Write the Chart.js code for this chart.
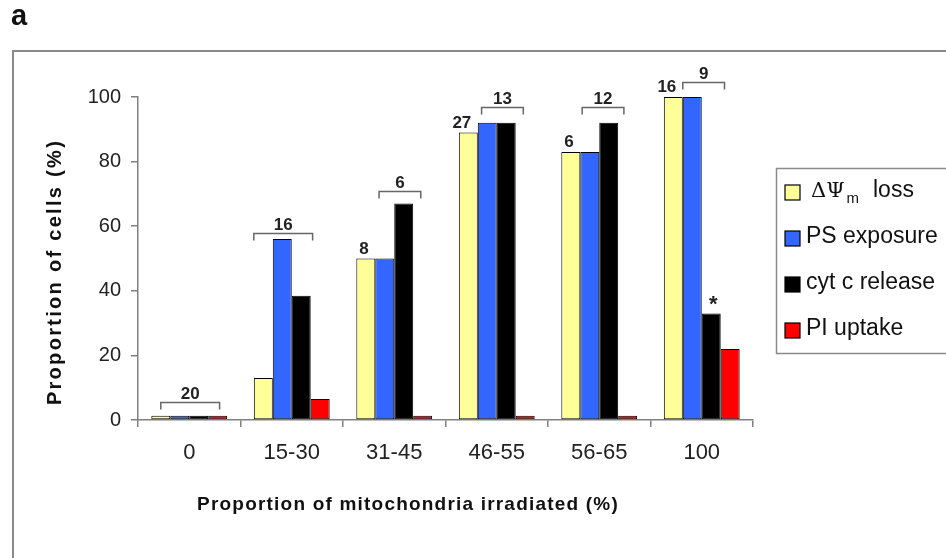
<!DOCTYPE html>
<html>
<head>
<meta charset="utf-8">
<script src="https://cdn.jsdelivr.net/npm/chart.js@4.4.1/dist/chart.umd.min.js"></script>
<style>
  html, body { margin: 0; padding: 0; background: #fff; }
  canvas { display: block; }
</style>
</head>
<body>
<canvas id="chart" width="946" height="558"></canvas>
<script>
const categories = ["0", "15-30", "31-45", "46-55", "56-65", "100"];
const seriesLabels = ["ΔΨm loss", "PS exposure", "cyt c release", "PI uptake"];
const psiLoss = [1.3, 13, 50, 89, 83, 100];
const psExposure = [1.3, 56, 50, 92, 83, 100];
const cytcRelease = [1.3, 38.5, 67, 92, 92, 33];
const piUptake = [1.3, 6.5, 1.3, 1.3, 1.3, 22];
const barColors = ["#ffff99", "#3366ff", "#000000", "#ff0000"];

// n over brackets: category, bracket ends (in bar widths from group start), height (%)
const bracketCats = [0, 1, 2, 3, 4, 5];
const bracketFrom = [0.5, 0, 1.2, 1.2, 1.1, 1.0];
const bracketTo = [3.6, 3.1, 3.4, 3.4, 3.3, 3.2];
const bracketLevels = [5.7, 58, 71, 97, 97, 104.7];
const bracketLabels = ["20", "16", "6", "13", "12", "9"];
// n written over the first bar of a group
const singleCats = [2, 3, 4, 5];
const singleLabels = ["8", "27", "6", "16"];
// significance star
const starCat = 5;
const starSeries = 2;

const FONT = "'Liberation Sans', Arial, sans-serif";

//white page, outer frame and panel letter
const frame = {
  id: "frame",
  beforeDraw(chart) {
    const ctx = chart.ctx;
    ctx.save();
    ctx.fillStyle = "#fff";
    ctx.fillRect(0, 0, chart.width, chart.height);
    ctx.strokeStyle = "#8a8a8a";
    ctx.lineWidth = 2;
    ctx.strokeRect(13, 51, 1000, 1000);
    ctx.fillStyle = "#111";
    ctx.font = "bold 29px " + FONT;
    ctx.textBaseline = "alphabetic";
    ctx.fillText("a", 11, 25);
    ctx.restore();
  },
};

const annotations = {
  id: "annotations",
  afterDraw(chart) {
    const ctx = chart.ctx;
    const ys = chart.scales.y;
    const bar = (ds, i) => chart.getDatasetMeta(ds).data[i];
    ctx.save();
    ctx.fillStyle = "#222";
    ctx.strokeStyle = "#666";
    ctx.lineWidth = 1.5;
    ctx.font = "bold 17px " + FONT;
    ctx.textAlign = "center";
    ctx.textBaseline = "alphabetic";
    // brackets with numbers
    bracketCats.forEach((c, k) => {
      const b = bar(0, c);
      const left = b.x - b.width / 2;
      const x1 = left + bracketFrom[k] * b.width;
      const x2 = left + bracketTo[k] * b.width;
      const yy = Math.round(ys.getPixelForValue(bracketLevels[k])) + 0.5;
      ctx.beginPath();
      ctx.moveTo(x1, yy + 7);
      ctx.lineTo(x1, yy);
      ctx.lineTo(x2, yy);
      ctx.lineTo(x2, yy + 7);
      ctx.stroke();
      ctx.fillText(bracketLabels[k], (x1 + x2) / 2, yy - 4);
    });
    // single numbers over the first bar
    ctx.textAlign = "right";
    singleCats.forEach((c, k) => {
      const b = bar(0, c);
      ctx.fillText(singleLabels[k], b.x + 3, b.y - 5);
    });
    // star
    const s = bar(starSeries, starCat);
    ctx.textAlign = "center";
    ctx.font = "bold 22px " + FONT;
    ctx.fillText("*", s.x + 2, s.y - 2);

    // axis titles
    ctx.fillStyle = "#111";
    ctx.font = "bold 20px " + FONT;
    ctx.letterSpacing = "2.3px";
    ctx.textBaseline = "middle";
    ctx.save();
    ctx.translate(55, 272);
    ctx.rotate(-Math.PI / 2);
    ctx.fillText("Proportion of cells (%)", 0, 0);
    ctx.restore();
    ctx.font = "bold 19px " + FONT;
    ctx.letterSpacing = "1.2px";
    ctx.fillText("Proportion of mitochondria irradiated (%)", 408, 505);
    ctx.letterSpacing = "0px";

    // legend
    ctx.strokeStyle = "#8a8a8a";
    ctx.lineWidth = 1.5;
    ctx.strokeRect(776.5, 168.5, 200, 185);
    ctx.textAlign = "left";
    ctx.textBaseline = "alphabetic";
    chart.data.datasets.forEach((ds, i) => {
      const base = 197 + i * 46;
      ctx.fillStyle = ds.backgroundColor;
      ctx.fillRect(785, base - 12, 15, 15);
      ctx.strokeStyle = "#000";
      ctx.lineWidth = 1.2;
      ctx.strokeRect(785, base - 12, 15, 15);
      ctx.fillStyle = "#111";
      if (ds.label.startsWith("ΔΨm")) {
        ctx.font = "21px 'DejaVu Serif', serif";
        ctx.fillText("ΔΨ", 811, base);
        const w = ctx.measureText("ΔΨ").width;
        ctx.font = "15px " + FONT;
        ctx.fillText("m", 813 + w, base + 6);
        ctx.font = "23px " + FONT;
        ctx.fillText(ds.label.slice(3).trim(), 873, base);
      } else {
        ctx.font = "23px " + FONT;
        ctx.fillText(ds.label, 806, base);
      }
    });
    ctx.restore();
  },
};

const seriesData = [psiLoss, psExposure, cytcRelease, piUptake];

new Chart(document.getElementById("chart"), {
  type: "bar",
  plugins: [frame, annotations],
  data: {
    labels: categories,
    datasets: seriesData.map((d, i) => ({
      label: seriesLabels[i],
      data: d,
      backgroundColor: barColors[i],
      borderColor: "#000",
      borderWidth: 1,
      borderSkipped: false,
      barPercentage: 1,
      categoryPercentage: 0.74,
    })),
  },
  options: {
    responsive: false,
    animation: false,
    layout: { padding: { top: 97, right: 193, left: 0, bottom: 0 } },
    plugins: {
      legend: { display: false },
      tooltip: { enabled: false },
    },
    scales: {
      x: {
        grid: { drawOnChartArea: false, drawTicks: true, tickLength: 7, color: "#808080", lineWidth: 1.5, offset: true },
        border: { color: "#808080", width: 1.5 },
        ticks: { color: "#222", font: { family: FONT, size: 22 }, padding: 13, maxRotation: 0 },
        afterFit(scale) { scale.height = 138; },
      },
      y: {
        min: 0,
        max: 100,
        grid: { drawOnChartArea: false, drawTicks: true, tickLength: 7, color: "#808080", lineWidth: 1.5 },
        border: { color: "#808080", width: 1.5 },
        ticks: { stepSize: 20, color: "#222", font: { family: FONT, size: 20 }, padding: 10 },
        afterFit(scale) { scale.width = 138; },
      },
    },
  },
});
</script>
</body>
</html>
